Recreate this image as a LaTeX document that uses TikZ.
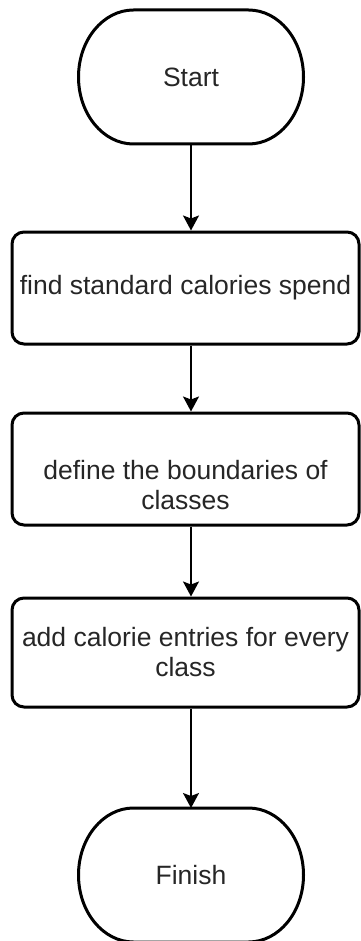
\documentclass[tikz,border=0pt]{standalone}
\usepackage{fontspec}
\setmainfont{Liberation Sans}
\usetikzlibrary{arrows.meta, positioning}

\begin{document}
\begin{tikzpicture}[
    x=1pt, y=1pt,
    font=\fontsize{26.5}{30}\selectfont,
    text=black!85,
    terminal/.style={minimum width=225pt, minimum height=134pt, outer sep=0pt},
    outline/.style={draw=black, line width=3pt},
    process/.style={rectangle, rounded corners=12pt, draw=black, line width=3pt, minimum width=347pt, inner xsep=1pt, align=center},
    arrow/.style={-{Stealth[length=15pt, width=16pt, inset=3pt]}, line width=1.8pt}
]
\useasboundingbox (0,0) rectangle (360,-941);
\node[terminal] (start) at (191,-77) {Start};
\node[process, minimum height=112pt, below=86.5pt of start, xshift=-5.5pt] (spend) {find standard calories spend};
\node[process, minimum height=112pt, below=66pt of spend,
      label={[name=bounds text, align=center, yshift=-16pt]center:define the boundaries of\\classes}] (bounds) {};
\node[process, minimum height=109pt, below=70pt of bounds] (entries) {add calorie entries for every\\class};
\node[terminal, below=99.5pt of entries, xshift=5.5pt] (finish) {Finish};
% terminator outlines
\foreach \t in {start, finish}
  \draw[outline] ([xshift=55pt]\t.north west) -- ([xshift=-55pt]\t.north east)
    arc[start angle=90, end angle=-90, x radius=55pt, y radius=67pt]
    -- ([xshift=55pt]\t.south west)
    arc[start angle=270, end angle=90, x radius=55pt, y radius=67pt] -- cycle;
\draw[arrow] (start.south) -- (start.south |- spend.north);
\draw[arrow] (spend.south -| start) -- (bounds.north -| start);
\draw[arrow] (bounds.south -| start) -- (entries.north -| start);
\draw[arrow] (entries.south -| start) -- (finish.north);
\end{tikzpicture}
\end{document}
